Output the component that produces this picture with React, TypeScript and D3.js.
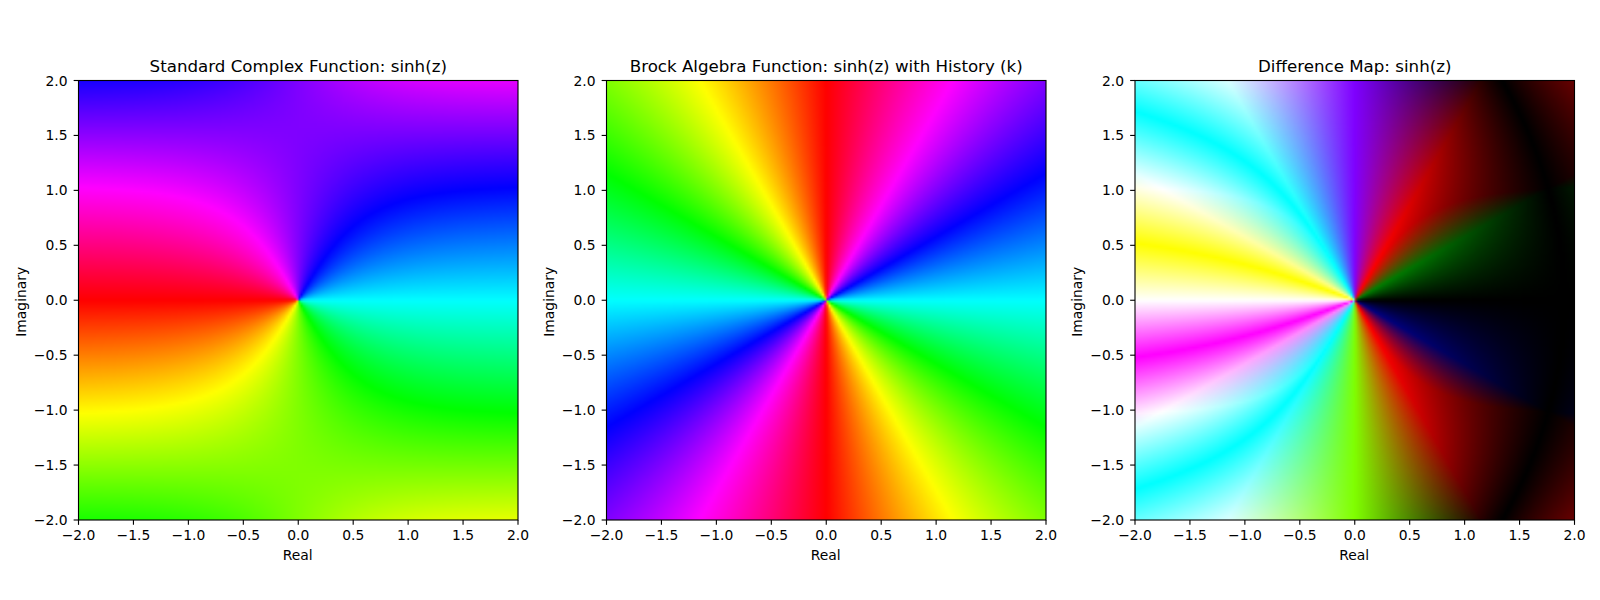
import React, { useMemo } from "react";
import * as d3 from "d3";

// The panels are domain-colouring maps: each raster is the phase of a function sampled on a grid.
const titles = [
  "Standard Complex Function: sinh(z)",
  "Brock Algebra Function: sinh(z) with History (k)",
  "Difference Map: sinh(z)",
];
const axisDomain: [number, number] = [-2, 2];
const ticks = [-2, -1.5, -1, -0.5, 0, 0.5, 1, 1.5, 2];
const xLabel = "Real";
const yLabel = "Imaginary";
const gridSize = 200;

const panelLefts = [78.5, 606.5, 1135];
const plotTop = 80.5;
const plotSize = 439.5;
const FONT = "'DejaVu Sans', sans-serif";
const INK = "#000";

type RGB = [number, number, number];

function hsv(h: number): RGB {
  const f = ((h % 1) + 1) % 1;
  const c = (n: number) => {
    const k = (n + f * 6) % 6;
    return 1 - Math.max(0, Math.min(k, 4 - k, 1));
  };
  return [c(5), c(3), c(1)];
}

// phase of sinh(z) mapped to hue
function standard(x: number, y: number): RGB {
  const re = Math.sinh(x) * Math.cos(y);
  const im = Math.cosh(x) * Math.sin(y);
  return hsv((Math.atan2(im, re) + Math.PI) / (2 * Math.PI));
}

// phase wraps twice around the origin
function brock(x: number, y: number): RGB {
  return hsv((2 * Math.atan2(y, x) + Math.PI) / (2 * Math.PI));
}

function difference(x: number, y: number): RGB {
  const a = standard(x, y);
  const b = brock(x, y);
  return [Math.abs(a[0] - b[0]), Math.abs(a[1] - b[1]), Math.abs(a[2] - b[2])];
}

const panelFns = [standard, brock, difference];

function rasterize(fn: (x: number, y: number) => RGB): string {
  const canvas = document.createElement("canvas");
  canvas.width = gridSize;
  canvas.height = gridSize;
  const ctx = canvas.getContext("2d")!;
  const img = ctx.createImageData(gridSize, gridSize);
  const re = d3.scaleLinear().domain([0, gridSize - 1]).range(axisDomain);
  const im = d3.scaleLinear().domain([0, gridSize - 1]).range([axisDomain[1], axisDomain[0]]);
  for (let r = 0; r < gridSize; r++) {
    for (let c = 0; c < gridSize; c++) {
      const [R, G, B] = fn(re(c), im(r));
      const i = (r * gridSize + c) * 4;
      img.data[i] = Math.round(R * 255);
      img.data[i + 1] = Math.round(G * 255);
      img.data[i + 2] = Math.round(B * 255);
      img.data[i + 3] = 255;
    }
  }
  ctx.putImageData(img, 0, 0);
  return canvas.toDataURL("image/png");
}

const fmt = (t: number) => t.toFixed(1).replace("-", "\u2212");

function Panel({ index }: { index: number }) {
  const left = panelLefts[index];
  const x = d3.scaleLinear().domain(axisDomain).range([left, left + plotSize]);
  const y = d3.scaleLinear().domain(axisDomain).range([plotTop + plotSize, plotTop]);
  const href = useMemo(() => rasterize(panelFns[index]), [index]);
  const bottom = plotTop + plotSize;
  return (
    <g fontFamily={FONT} fill={INK}>
      <image
        href={href}
        x={left}
        y={plotTop}
        width={plotSize}
        height={plotSize}
        preserveAspectRatio="none"
      />
      <rect
        x={left}
        y={plotTop}
        width={plotSize}
        height={plotSize}
        fill="none"
        stroke={INK}
        strokeWidth={1.11}
      />
      {ticks.map((t) => (
        <g key={`x${t}`}>
          <line x1={x(t)} x2={x(t)} y1={bottom} y2={bottom + 4.86} stroke={INK} strokeWidth={1.11} />
          <text x={x(t)} y={bottom + 19.5} fontSize={13.89} textAnchor="middle">
            {fmt(t)}
          </text>
        </g>
      ))}
      {ticks.map((t) => (
        <g key={`y${t}`}>
          <line x1={left - 4.86} x2={left} y1={y(t)} y2={y(t)} stroke={INK} strokeWidth={1.11} />
          <text x={left - 11} y={y(t) + 5} fontSize={13.89} textAnchor="end">
            {fmt(t)}
          </text>
        </g>
      ))}
      <text x={left + plotSize / 2} y={plotTop - 8.5} fontSize={16.67} textAnchor="middle">
        {titles[index]}
      </text>
      <text x={left + plotSize / 2 - 0.5} y={bottom + 40} fontSize={13.89} textAnchor="middle">
        {xLabel}
      </text>
      <text
        transform={`translate(${left - 53},${plotTop + plotSize / 2 + 1.5}) rotate(-90)`}
        fontSize={13.89}
        textAnchor="middle"
      >
        {yLabel}
      </text>
    </g>
  );
}

export default function App() {
  return (
    <svg
      width={1600}
      height={600}
      viewBox="0 0 1600 600"
      style={{ position: "absolute", left: 0, top: 0, display: "block", background: "#fff" }}
    >
      {titles.map((_, i) => (
        <Panel key={i} index={i} />
      ))}
    </svg>
  );
}
